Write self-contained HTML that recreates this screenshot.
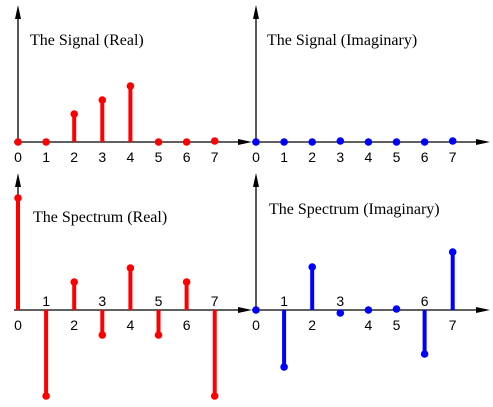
<!DOCTYPE html>
<html><head><meta charset="utf-8"><style>
html,body{margin:0;padding:0;background:#fff;width:493px;height:407px;overflow:hidden}
text{font-family:"Liberation Serif",serif;font-size:16px;fill:#000}
.lbl{font-family:"Liberation Sans",sans-serif;font-size:14px}
</style></head><body>
<svg id="chart" width="493" height="407" xmlns="http://www.w3.org/2000/svg"></svg>
<script>
const indices=[0,1,2,3,4,5,6,7];
const signalReal=[0,0,28,42,56,0,0,1];
const signalImag=[0,0,0,1,0,0,0,1];
const spectrumReal=[112,-86,28,-25,42,-25,28,-86];
const spectrumImag=[0,-57,43,-3,0,1,-44,58];
const panels=[
 {name:'signal-real',title:'The Signal (Real)',ox:18,oy:142,top:5,tx:30,ty:45,data:signalReal,color:'#ff0000',lblAbove:[0,0,0,0,0,0,0,0]},
 {name:'signal-imaginary',title:'The Signal (Imaginary)',ox:256,oy:142,top:5,tx:267,ty:45,data:signalImag,color:'#0000ff',lblAbove:[0,0,0,0,0,0,0,0]},
 {name:'spectrum-real',title:'The Spectrum (Real)',ox:18,oy:310,top:173,tx:33,ty:222,data:spectrumReal,color:'#ff0000',lblAbove:[0,1,0,1,0,1,0,1]},
 {name:'spectrum-imaginary',title:'The Spectrum (Imaginary)',ox:256,oy:310,top:173,tx:269,ty:214,data:spectrumImag,color:'#0000ff',lblAbove:[0,1,0,1,0,0,1,0]}
];
const NS='http://www.w3.org/2000/svg';
const svg=document.getElementById('chart');
function mk(tag,attrs,parent){const e=document.createElementNS(NS,tag);for(const k in attrs)e.setAttribute(k,attrs[k]);(parent||svg).appendChild(e);return e;}
panels.forEach(p=>{
 const g=mk('g',{});
 
 
 const xs=i=>p.ox+i*28.1;
 const ys=v=>p.oy-v;
 const xa=mk('line',{x1:p.ox-4,y1:p.oy,x2:p.ox+220,y2:p.oy,stroke:'#000','stroke-width':1.3},g);
 
 
 const xh=mk('polygon',{points:`${p.ox+234},${p.oy} ${p.ox+220},${p.oy-3} ${p.ox+220},${p.oy+3}`,fill:'#000'},g);
 
 
 const ya=mk('line',{x1:p.ox,y1:p.oy,x2:p.ox,y2:p.top+8,stroke:'#000','stroke-width':1.3},g);
 
 
 const yh=mk('polygon',{points:`${p.ox},${p.top} ${p.ox-3},${p.top+14} ${p.ox+3},${p.top+14}`,fill:'#000'},g);
 
 
 const t=mk('text',{x:p.tx,y:p.ty},g);t.textContent=p.title;
 
 
 indices.forEach((k,i)=>{
  const v=p.data[i],x=xs(k),y=ys(v);
  if(Math.abs(v)>2){
   const s=mk('line',{x1:x,y1:p.oy,x2:x,y2:y,stroke:p.color,'stroke-width':4},g);
   
   
  }
  const d=mk('circle',{cx:x,cy:y,r:3.8,fill:p.color},g);
  
  
  const above=p.lblAbove[i];
  const ly=above?p.oy-4:p.oy+20;
  const l=mk('text',{x:x,y:ly,'text-anchor':'middle',class:'lbl'},g);
  l.textContent=String(k);
  
  
 });
});
</script>
</body></html>
